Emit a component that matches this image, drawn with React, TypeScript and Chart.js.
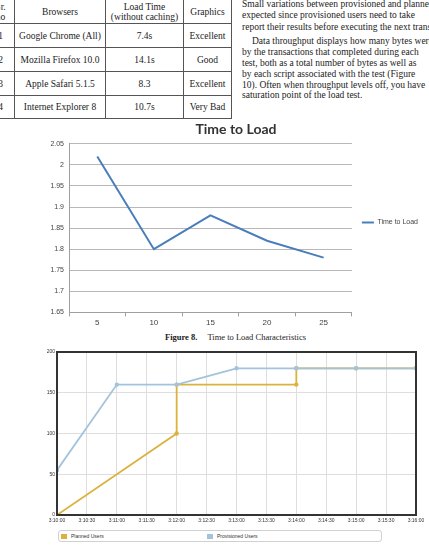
import React, { useEffect, useRef } from 'react';
import { Chart, registerables } from 'chart.js';

Chart.register(...registerables);

// ---- Table data ----
const tableHeader = ['Sr.\nno', 'Browsers', 'Load Time\n(without caching)', 'Graphics'];
const tableRows = [
  ['1', 'Google Chrome (All)', '7.4s', 'Excellent'],
  ['2', 'Mozilla Firefox 10.0', '14.1s', 'Good'],
  ['3', 'Apple Safari 5.1.5', '8.3', 'Excellent'],
  ['4', 'Internet Explorer 8', '10.7s', 'Very Bad'],
];

// ---- Paragraph text (visible lines) ----
const paragraphLines = [
  { text: 'Small variations between provisioned and planned', indent: false, top: 3.5 },
  { text: 'expected since provisioned users need to take', indent: false, top: 15 },
  { text: 'report their results before executing the next transaction.', indent: false, top: 26.5 },
  { text: 'Data throughput displays how many bytes were', indent: true, top: 40.5 },
  { text: 'by the transactions that completed during each', indent: false, top: 52 },
  { text: 'test, both as a total number of bytes as well as', indent: false, top: 63 },
  { text: 'by each script associated with the test (Figure', indent: false, top: 74 },
  { text: '10). Often when throughput levels off, you have', indent: false, top: 85 },
  { text: 'saturation point of the load test.', indent: false, top: 95 },
];

// ---- Chart 1: Time to Load ----
const loadCategories = ['5', '10', '15', '20', '25'];
const loadTimes = [2.02, 1.8, 1.88, 1.82, 1.78];

// ---- Chart 2: Planned vs Provisioned users ----
const timeLabels = [
  '3:10:00', '3:10:30', '3:11:00', '3:11:30', '3:12:00', '3:12:30', '3:13:00',
  '3:13:30', '3:14:00', '3:14:30', '3:15:00', '3:15:30', '3:16:00',
];
const plannedSeconds = [0, 120, 120, 240, 240, 300, 360];
const plannedUsers = [0, 100, 160, 160, 180, 180, 180];
const provisionedSeconds = [0, 60, 120, 180, 240, 300, 360];
const provisionedUsers = [55, 160, 160, 180, 180, 180, 180];

const serif = '"Liberation Serif", "Times New Roman", serif';
const sans = '"Liberation Sans", Arial, sans-serif';

function fmtTick(v: number) {
  return Number(v).toFixed(2).replace(/0+$/, '').replace(/\.$/, '');
}

function LoadChart() {
  const ref = useRef<HTMLCanvasElement>(null);
  useEffect(() => {
    const chart = new Chart(ref.current!, {
      type: 'line',
      data: {
        labels: loadCategories,
        datasets: [
          {
            label: 'Time to Load',
            data: loadTimes,
            borderColor: '#4a7ebb',
            backgroundColor: '#4a7ebb',
            borderWidth: 2,
            pointRadius: 0,
            tension: 0,
          },
        ],
      },
      options: {
        animation: false,
        responsive: false,
        maintainAspectRatio: false,
        layout: { padding: 0 },
        plugins: {
          title: {
            display: true,
            text: 'Time to Load',
            font: { family: 'Lato', size: 14, weight: 'bold' },
            color: '#333',
            padding: { top: 6, bottom: 6 },
          },
          legend: {
            position: 'right',
            labels: {
              usePointStyle: true,
              pointStyle: 'line',
              pointStyleWidth: 12,
              boxWidth: 12,
              font: { family: sans, size: 7 },
              color: '#444',
              padding: 10,
            },
          },
          tooltip: { enabled: false },
        },
        scales: {
          x: {
            type: 'category',
            offset: true,
            grid: { display: true, drawOnChartArea: false, offset: true, tickLength: 4, color: '#a0a0a0' },
            border: { color: '#a0a0a0' },
            ticks: { font: { family: sans, size: 8 }, color: '#444', padding: 2 },
          },
          y: {
            min: 1.65,
            max: 2.05,
            ticks: {
              stepSize: 0.05,
              callback: (v: any) => fmtTick(v),
              font: { family: sans, size: 7 },
              color: '#444',
              padding: 5,
            },
            grid: { color: '#b8b8b8', drawTicks: false },
            border: { color: '#a0a0a0' },
            afterFit: (s: any) => {
              s.width = 25;
            },
          },
        },
      },
    } as any);
    return () => chart.destroy();
  }, []);
  return (
    <canvas
      ref={ref}
      width={384}
      height={215}
      style={{ position: 'absolute', left: 44, top: 115, width: 384, height: 215 }}
    />
  );
}

const framePlugin = {
  id: 'frame',
  afterDraw(chart: any) {
    const { ctx, chartArea } = chart;
    ctx.save();
    ctx.strokeStyle = '#333';
    ctx.lineWidth = 2;
    ctx.strokeRect(chartArea.left, chartArea.top, chartArea.right - chartArea.left, chartArea.bottom - chartArea.top);
    ctx.restore();
  },
};

function UsersChart() {
  const ref = useRef<HTMLCanvasElement>(null);
  useEffect(() => {
    const planned = plannedSeconds.map((s, i) => ({ x: s, y: plannedUsers[i] }));
    const provisioned = provisionedSeconds.map((s, i) => ({ x: s, y: provisionedUsers[i] }));
    const chart = new Chart(ref.current!, {
      type: 'line',
      data: {
        datasets: [
          {
            label: 'Planned Users',
            data: planned,
            borderColor: '#dcb23c',
            backgroundColor: '#dcb23c',
            borderWidth: 1.8,
            pointRadius: 1.3,
            tension: 0,
            order: 2,
          },
          {
            label: 'Provisioned Users',
            data: provisioned,
            borderColor: '#a3c3dc',
            backgroundColor: '#a3c3dc',
            borderWidth: 1.8,
            pointRadius: 1.3,
            tension: 0,
            order: 1,
          },
        ],
      },
      options: {
        animation: false,
        responsive: false,
        maintainAspectRatio: false,
        layout: { padding: { top: 7, right: 13, left: 0, bottom: 0 } },
        plugins: { legend: { display: false }, tooltip: { enabled: false } },
        scales: {
          x: {
            type: 'linear',
            min: 0,
            max: 360,
            ticks: {
              stepSize: 30,
              autoSkip: false,
              maxRotation: 0,
              callback: (v: any) => timeLabels[Math.round(Number(v) / 30)],
              font: { family: sans, size: 5 },
              color: '#333',
              padding: 3,
            },
            grid: { color: '#dedede', drawTicks: false },
            border: { color: '#333', width: 2 },
          },
          y: {
            min: 0,
            max: 200,
            ticks: {
              stepSize: 50,
              font: { family: sans, size: 5 },
              color: '#333',
              padding: 2,
            },
            grid: { color: '#dedede', drawTicks: false },
            border: { color: '#333', width: 2 },
            afterFit: (s: any) => {
              s.width = 37;
            },
          },
        },
      },
      plugins: [framePlugin],
    } as any);
    return () => chart.destroy();
  }, []);
  return (
    <canvas
      ref={ref}
      width={409}
      height={182}
      style={{ position: 'absolute', left: 20, top: 345, width: 409, height: 182 }}
    />
  );
}

function DataTable() {
  const colWidths = [27, 90, 77, 47];
  const rowHeights = [23, 23, 23, 23, 22];
  const cell = (content: string, w: number, h: number, key: number) => (
    <td
      key={key}
      style={{
        width: w,
        height: h,
        border: '1px solid #555',
        padding: 0,
        textAlign: 'center',
        verticalAlign: 'middle',
        whiteSpace: 'pre',
        lineHeight: '10px',
      }}
    >
      {content}
    </td>
  );
  return (
    <table
      style={{
        position: 'absolute',
        left: -14,
        top: -1,
        borderCollapse: 'collapse',
        tableLayout: 'fixed',
        fontFamily: serif,
        fontSize: 9.5,
        color: '#222',
      }}
    >
      <tbody>
        <tr>{tableHeader.map((t, i) => cell(t, colWidths[i], rowHeights[0], i))}</tr>
        {tableRows.map((r, ri) => (
          <tr key={ri}>{r.map((t, i) => cell(t, colWidths[i], rowHeights[ri + 1], i))}</tr>
        ))}
      </tbody>
    </table>
  );
}

export default function App() {
  return (
    <div
      style={{
        position: 'absolute',
        left: 0,
        top: 0,
        width: 429,
        height: 546,
        overflow: 'hidden',
        background: '#fff',
      }}
    >
      <DataTable />
      {paragraphLines.map((l, i) => (
        <div
          key={i}
          style={{
            position: 'absolute',
            left: l.indent ? 252 : 242,
            top: l.top - 6,
            whiteSpace: 'nowrap',
            fontFamily: serif,
            fontSize: 9.5,
            lineHeight: '12px',
            color: '#222',
          }}
        >
          {l.text}
        </div>
      ))}
      <LoadChart />
      <div
        style={{
          position: 'absolute',
          left: 0,
          width: 429,
          top: 331,
          textAlign: 'center',
          fontFamily: serif,
          fontSize: 8.5,
          lineHeight: '12px',
          color: '#222',
          paddingLeft: 42,
          boxSizing: 'border-box',
        }}
      >
        <b>Figure 8.</b>
        <span style={{ marginLeft: 10 }}>Time to Load Characteristics</span>
      </div>
      <UsersChart />
      <div
        style={{
          position: 'absolute',
          left: 58,
          top: 530,
          width: 324,
          height: 12,
          border: '1px solid #d0d0d0',
          borderRadius: 3,
          boxSizing: 'border-box',
          fontFamily: sans,
          fontSize: 5,
          color: '#333',
        }}
      >
        <div style={{ position: 'absolute', left: 2, top: 2.5, width: 6, height: 5, background: '#dcb23c' }} />
        <div style={{ position: 'absolute', left: 12, top: 2, lineHeight: '6px' }}>Planned Users</div>
        <div style={{ position: 'absolute', left: 148, top: 2.5, width: 6, height: 5, background: '#a3c3dc' }} />
        <div style={{ position: 'absolute', left: 158, top: 2, lineHeight: '6px' }}>Provisioned Users</div>
      </div>
    </div>
  );
}
